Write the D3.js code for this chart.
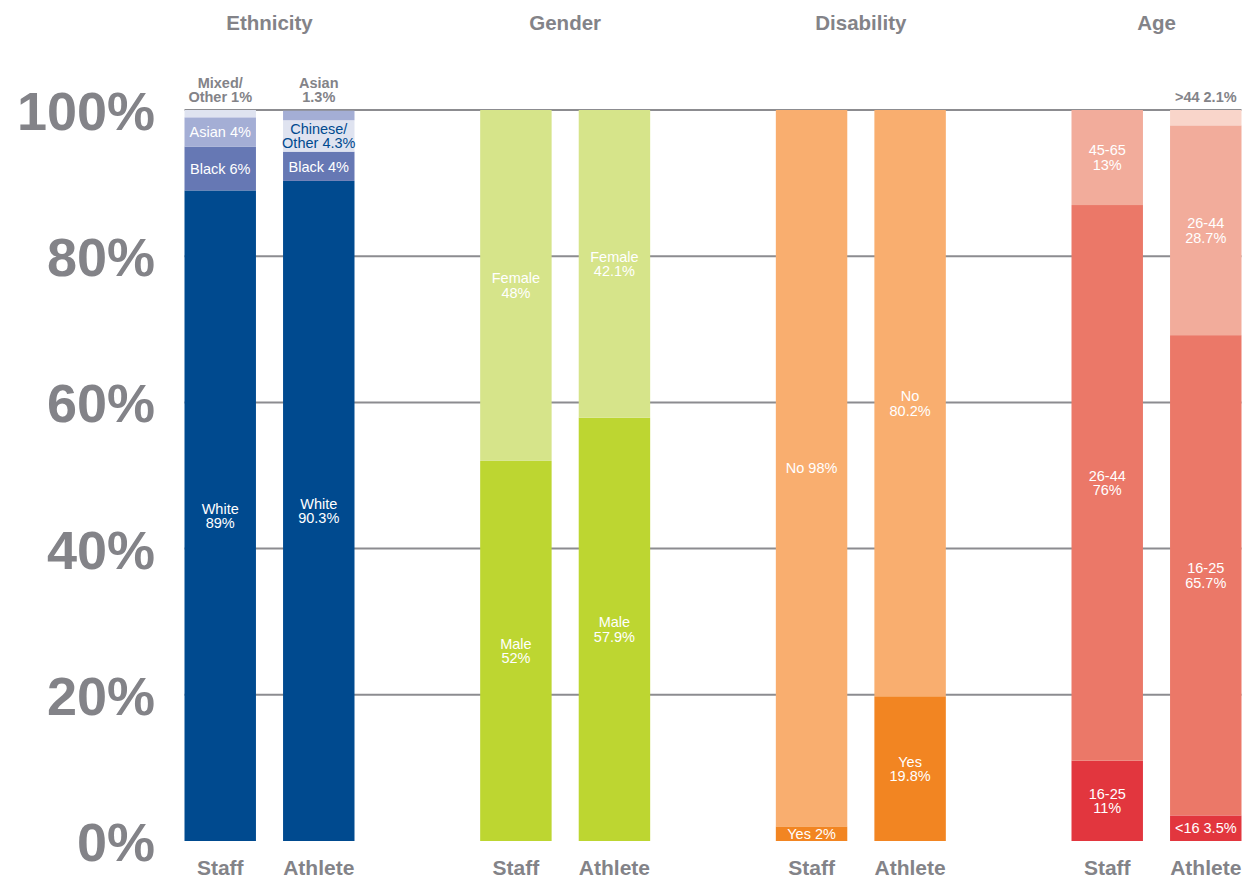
<!DOCTYPE html>
<html>
<head>
<meta charset="utf-8">
<script src="https://cdn.jsdelivr.net/npm/d3@7"></script>
<style>
  html, body { margin: 0; padding: 0; background: #ffffff; }
  svg { display: block; font-family: "Liberation Sans", Arial, Helvetica, sans-serif; }
</style>
</head>
<body>
<svg id="chart" width="1248" height="879"></svg>
<script>
// Panels and bars
const groups = ["Ethnicity", "Gender", "Disability", "Age"];
const bars = ["Staff", "Athlete"];
const yTicks = [0, 20, 40, 60, 80, 100];

// Segment names (bottom to top) and shares in percent
const ethnicityStaffNames = ["White", "Black", "Asian", "Mixed/\nOther"];
const ethnicityStaffValues = [89, 6, 4, 1];
const ethnicityAthleteNames = ["White", "Black", "Chinese/\nOther", "Asian"];
const ethnicityAthleteValues = [90.3, 4, 4.3, 1.3];

const genderStaffNames = ["Male", "Female"];
const genderStaffValues = [52, 48];
const genderAthleteNames = ["Male", "Female"];
const genderAthleteValues = [57.9, 42.1];

const disabilityStaffNames = ["Yes", "No"];
const disabilityStaffValues = [2, 98];
const disabilityAthleteNames = ["Yes", "No"];
const disabilityAthleteValues = [19.8, 80.2];

const ageStaffNames = ["16-25", "26-44", "45-65"];
const ageStaffValues = [11, 76, 13];
const ageAthleteNames = ["<16", "16-25", "26-44", ">44"];
const ageAthleteValues = [3.5, 65.7, 28.7, 2.1];

// How each segment label is set: stacked or inline, inside or above the bar
const labelModes = {
  Ethnicity: { Staff: ["stack", "inline", "inline", "aboveStack"], Athlete: ["stack", "inline", "stack", "aboveStack"] },
  Gender: { Staff: ["stack", "stack"], Athlete: ["stack", "stack"] },
  Disability: { Staff: ["inline", "inline"], Athlete: ["stack", "stack"] },
  Age: { Staff: ["stack", "stack", "stack"], Athlete: ["inline", "stack", "stack", "aboveInline"] }
};

// Colours, bottom segment first
const palettes = {
  Ethnicity: { Staff: ["#004a8f", "#6678b4", "#a4aed5", "#dfe3f0"], Athlete: ["#004a8f", "#6678b4", "#dfe3f0", "#a4aed5"] },
  Gender: { Staff: ["#bdd631", "#d6e48a"], Athlete: ["#bdd631", "#d6e48a"] },
  Disability: { Staff: ["#f28522", "#f9ae6f"], Athlete: ["#f28522", "#f9ae6f"] },
  Age: { Staff: ["#e2363e", "#eb7868", "#f2ac9b"], Athlete: ["#e2363e", "#eb7868", "#f2ac9b", "#f9d5ca"] }
};
const labelInk = { "Chinese/\nOther": "#004a8f" };

const series = {
  Ethnicity: { Staff: [ethnicityStaffNames, ethnicityStaffValues], Athlete: [ethnicityAthleteNames, ethnicityAthleteValues] },
  Gender: { Staff: [genderStaffNames, genderStaffValues], Athlete: [genderAthleteNames, genderAthleteValues] },
  Disability: { Staff: [disabilityStaffNames, disabilityStaffValues], Athlete: [disabilityAthleteNames, disabilityAthleteValues] },
  Age: { Staff: [ageStaffNames, ageStaffValues], Athlete: [ageAthleteNames, ageAthleteValues] }
};

const grey = "#838388";
const svg = d3.select("#chart");

const y = d3.scaleLinear().domain([0, 100]).range([841, 110]);
const xGroup = d3.scalePoint().domain(groups).range([269.5, 1156.5]);
const xBar = d3.scaleBand().domain(bars).range([-85, 85]).paddingInner(0.275).paddingOuter(0);

// Gridlines behind the bars
const gridLeft = xGroup(groups[0]) + xBar(bars[0]);
const gridRight = xGroup(groups[groups.length - 1]) + xBar(bars[1]) + xBar.bandwidth();
svg.append("g")
  .selectAll("line")
  .data(yTicks.filter(d => d > 0))
  .join("line")
  .attr("x1", gridLeft).attr("x2", gridRight)
  .attr("y1", d => y(d)).attr("y2", d => y(d))
  .attr("stroke", "#8c8c90").attr("stroke-width", 2);

// Y axis labels
const yAxis = d3.axisLeft(y).tickValues(yTicks).tickFormat(d => d + "%").tickSize(0).tickPadding(0);
const yAxisG = svg.append("g").attr("transform", "translate(155,0)").call(yAxis);
yAxisG.select(".domain").remove();
yAxisG.selectAll("text")
  .attr("fill", grey)
  .attr("font-size", 54)
  .attr("font-weight", "bold")
  .attr("dy", "0.36em")
  .style("font-family", "'Liberation Sans', Arial, sans-serif");

// Panel titles
svg.append("g")
  .selectAll("text")
  .data(groups)
  .join("text")
  .attr("x", d => xGroup(d))
  .attr("y", 30)
  .attr("text-anchor", "middle")
  .attr("fill", grey)
  .attr("font-size", 20.5)
  .attr("font-weight", "bold")
  .text(d => d);

const fmt = v => v + "%";

function labelLines(name, value, mode) {
  const parts = name.split("\n");
  if (parts.length > 1) {
    parts[parts.length - 1] += " " + fmt(value);
    return parts;
  }
  if (mode === "stack" || mode === "aboveStack") return [name, fmt(value)];
  return [name + " " + fmt(value)];
}

groups.forEach(g => {
  const panel = svg.append("g").attr("transform", `translate(${xGroup(g)},0)`);
  bars.forEach(b => {
    const [names, values] = series[g][b];
    const ends = d3.cumsum(values);
    const segs = names.map((n, i) => ({
      name: n, value: values[i],
      y0: i === 0 ? 0 : ends[i - 1], y1: ends[i],
      color: palettes[g][b][i], mode: labelModes[g][b][i]
    }));
    const x0 = xBar(b), w = xBar.bandwidth(), cx = x0 + w / 2;
    const barG = panel.append("g");

    barG.selectAll("rect")
      .data(segs)
      .join("rect")
      .attr("x", x0)
      .attr("width", w)
      .attr("y", d => y(d.y1))
      .attr("height", d => y(d.y0) - y(d.y1))
      .attr("fill", d => d.color);

    segs.forEach(s => {
      const lines = labelLines(s.name, s.value, s.mode);
      const above = s.mode.startsWith("above");
      const lh = 14.5;
      let centers;
      if (above) {
        const bottom = y(100) - 13;
        centers = lines.map((_, i) => bottom - (lines.length - 1 - i) * lh);
      } else {
        const mid = (y(s.y0) + y(s.y1)) / 2;
        centers = lines.map((_, i) => mid + (i - (lines.length - 1) / 2) * lh);
      }
      const t = barG.append("text")
        .attr("text-anchor", "middle")
        .attr("font-size", above ? 14.5 : 14.5)
        .attr("font-weight", above ? "bold" : "normal")
        .attr("fill", above ? grey : (labelInk[s.name] || "#ffffff"));
      lines.forEach((ln, i) => {
        t.append("tspan").attr("x", cx).attr("y", centers[i]).attr("dy", "0.36em").text(ln);
      });
    });

    // Bar name under the bar
    panel.append("text")
      .attr("x", cx)
      .attr("y", 875)
      .attr("text-anchor", "middle")
      .attr("fill", grey)
      .attr("font-size", 21)
      .attr("font-weight", "bold")
      .text(b);
  });
});
</script>
</body>
</html>
